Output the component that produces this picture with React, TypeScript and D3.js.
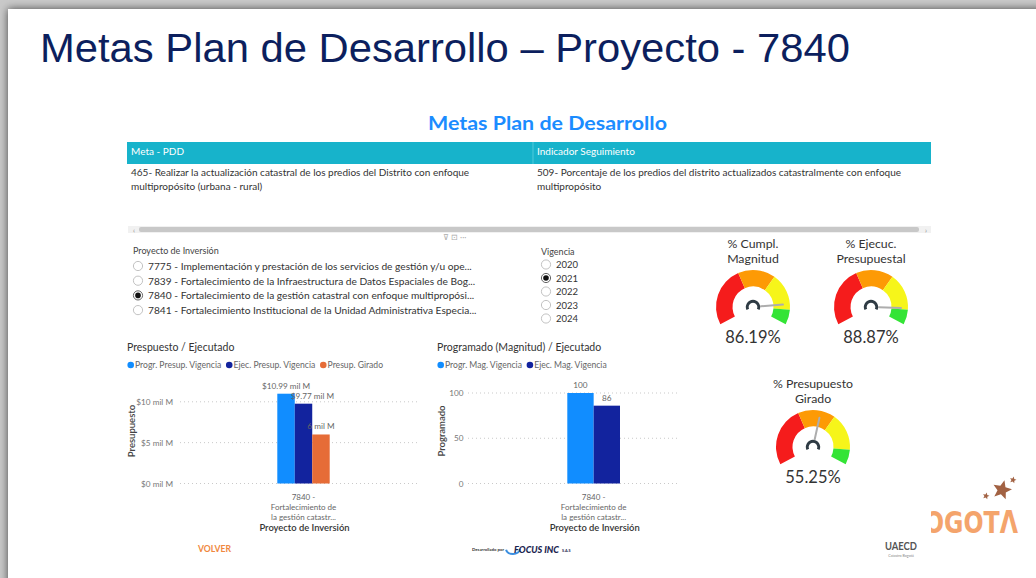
import React from "react";
import * as d3 from "d3";

// ---- data ----
const pageTitle = "Metas Plan de Desarrollo – Proyecto - 7840";
const panelTitle = "Metas Plan de Desarrollo";
const tableHeaders = ["Meta - PDD", "Indicador Seguimiento"];
const metaLines = ["465- Realizar la actualización catastral de los predios del Distrito con enfoque", "multipropósito (urbana - rural)"];
const indicadorLines = ["509- Porcentaje de los predios del distrito actualizados catastralmente con enfoque", "multipropósito"];

const proyectos = [
  "7775 - Implementación y prestación de los servicios de gestión y/u ope...",
  "7839 - Fortalecimiento de la Infraestructura de Datos Espaciales de Bog...",
  "7840 - Fortalecimiento de la gestión catastral con enfoque multipropósi...",
  "7841 - Fortalecimiento Institucional de la Unidad Administrativa Especia...",
];
const proyectoSel = 2;
const vigencias = ["2020", "2021", "2022", "2023", "2024"];
const vigenciaSel = 1;

const presupSeries = ["Progr. Presup. Vigencia", "Ejec. Presup. Vigencia", "Presup. Girado"];
const presupValues = [10.99, 9.77, 6];
const presupLabels = ["$10.99 mil M", "$9.77 mil M", "6 mil M"];
const presupTicks = [0, 5, 10];
const presupTickLabels = ["$0 mil M", "$5 mil M", "$10 mil M"];

const magSeries = ["Progr. Mag. Vigencia", "Ejec. Mag. Vigencia"];
const magValues = [100, 86];
const magLabels = ["100", "86"];
const magTicks = [0, 50, 100];
const magTickLabels = ["0", "50", "100"];

const categoryLines = ["7840 -", "Fortalecimiento de", "la gestión catastr..."];
const seriesColors = ["#118dff", "#12239e", "#e66c37"];

const gaugeTitles = [["% Cumpl.", "Magnitud"], ["% Ejecuc.", "Presupuestal"], ["% Presupuesto", "Girado"]];
const gaugeValues = [86.19, 88.87, 55.25];
const gaugeBands = [0, 40, 65, 90, 100];
const gaugeColors = ["#f51c1c", "#fd9a05", "#f6f51a", "#34e436"];

// ---- helpers ----
const UI = "Lato, 'Open Sans', sans-serif";

let ctx: CanvasRenderingContext2D | null = null;
function measure(text: string, font: string) {
  if (!ctx) ctx = document.createElement("canvas").getContext("2d");
  ctx!.font = font;
  return ctx!.measureText(text).width;
}

function Radio({ x, y, on }: { x: number; y: number; on: boolean }) {
  return (
    <g>
      <circle cx={x} cy={y} r={4.6} fill="#fff" stroke={on ? "#555" : "#bbb"} strokeWidth={0.9} />
      {on && <circle cx={x} cy={y} r={2.8} fill="#111" />}
    </g>
  );
}

function Legend({ x, y, names, size }: { x: number; y: number; names: string[]; size: number }) {
  let cur = x;
  return (
    <g>
      {names.map((n, i) => {
        const gx = cur;
        cur += 7 + measure(n, `${size}px Lato`) + 5;
        return (
          <g key={n}>
            <circle cx={gx + 3.2} cy={y} r={3.3} fill={seriesColors[i]} />
            <text x={gx + 7.5} y={y} dominantBaseline="central" fontFamily={UI} fontSize={size} fill="#666">{n}</text>
          </g>
        );
      })}
    </g>
  );
}

type BarProps = {
  title: string; titleX: number; series: string[]; values: number[]; labels: string[];
  ticks: number[]; tickLabels: string[]; axisTitle: string; axisTitleX: number; top: number;
  tickRight: number; grid: [number, number]; band: [number, number]; labelDx: number[];
};

function BarChart(p: BarProps) {
  const y = d3.scaleLinear().domain([0, d3.max(p.ticks)!]).range([483.5, p.top]);
  const x = d3.scaleBand<string>().domain(p.series).range(p.band).padding(0);
  const cx = (p.band[0] + p.band[1]) / 2;
  return (
    <g fontFamily={UI}>
      <text x={p.titleX} y={347} dominantBaseline="central" fontSize={10.5} fill="#333">{p.title}</text>
      <Legend x={p.titleX + 0.5} y={365} names={p.series} size={8.6} />
      {p.ticks.map((t, i) => (
        <g key={t}>
          <line x1={p.grid[0]} x2={p.grid[1]} y1={y(t)} y2={y(t)} stroke="#c9c9c9" strokeDasharray="1,3" />
          <text x={p.tickRight} y={y(t)} dominantBaseline="central" textAnchor="end" fontSize={8.2} fill="#777">{p.tickLabels[i]}</text>
        </g>
      ))}
      <text transform={`translate(${p.axisTitleX},431) rotate(-90)`} textAnchor="middle" dominantBaseline="central" fontSize={9.5} fill="#444" fontWeight={600}>{p.axisTitle}</text>
      {p.series.map((s, i) => (
        <g key={s}>
          <rect x={x(s)} y={y(p.values[i])} width={x.bandwidth()} height={y(0) - y(p.values[i])} fill={seriesColors[i]} />
          <text x={x(s)! + x.bandwidth() / 2 + p.labelDx[i]} y={y(p.values[i]) - 8} textAnchor="middle" dominantBaseline="central" fontSize={8.2} fill="#666">{p.labels[i]}</text>
        </g>
      ))}
      {categoryLines.map((l, i) => (
        <text key={l} x={cx} y={497 + i * 9.8} textAnchor="middle" dominantBaseline="central" fontSize={8} fill="#666">{l}</text>
      ))}
      <text x={cx + 1} y={527.5} textAnchor="middle" dominantBaseline="central" fontSize={9.4} fill="#333" fontWeight={600}>Proyecto de Inversión</text>
    </g>
  );
}

function Gauge({ cx, cy, value, lines, titleY }: { cx: number; cy: number; value: number; lines: string[]; titleY: number }) {
  const deg = Math.PI / 180;
  const a = d3.scaleLinear().domain([0, 100]).range([-118 * deg, 118 * deg]);
  const arc = d3.arc<any>();
  const segs = gaugeColors.map((c, i) => ({
    c, d: arc({ innerRadius: 20.5, outerRadius: 37, startAngle: a(gaugeBands[i]), endAngle: a(gaugeBands[i + 1]) }),
  }));
  const hook = arc({ innerRadius: 4.3, outerRadius: 7.2, startAngle: -0.64 * Math.PI, endAngle: 0.64 * Math.PI });
  const ang = a(value);
  return (
    <g fontFamily={UI}>
      {lines.map((l, i) => (
        <text key={l} x={cx} y={titleY + i * 15} textAnchor="middle" dominantBaseline="central" fontSize={12.3} fill="#333">{l}</text>
      ))}
      <g transform={`translate(${cx},${cy})`}>
        {segs.map(s => <path key={s.c} d={s.d!} fill={s.c} />)}
        <path d={hook!} fill="#2f3b44" />
        <line x1={8 * Math.sin(ang)} y1={-8 * Math.cos(ang)} x2={30 * Math.sin(ang)} y2={-30 * Math.cos(ang)} stroke="#adadad" strokeWidth={2} strokeLinecap="round" />
      </g>
      <text x={cx} y={cy + 30} textAnchor="middle" dominantBaseline="central" fontSize={16.5} fill="#333">{value.toFixed(2)}%</text>
    </g>
  );
}

function star(cx: number, cy: number, r: number) {
  const pts: [number, number][] = [];
  for (let i = 0; i < 10; i++) {
    const rr = i % 2 === 0 ? r : r * 0.45;
    const t = (Math.PI / 5) * i - Math.PI / 2 + 0.25;
    pts.push([cx + rr * Math.cos(t), cy + rr * Math.sin(t)]);
  }
  return "M" + pts.map(p => p.join(",")).join("L") + "Z";
}

export default function App() {
  return (
    <svg width={1036} height={578} style={{ position: "absolute", left: 0, top: 0, display: "block" }}>
      <defs>
        <filter id="sh" x="-5%" y="-5%" width="110%" height="110%">
          <feDropShadow dx={0} dy={0} stdDeviation={4} floodColor="#000" floodOpacity={0.65} />
        </filter>
        <clipPath id="logoClip"><rect x={931} y={460} width={105} height={100} /></clipPath>
      </defs>
      <rect width={1036} height={578} fill="#c9c9c9" />
      <rect x={8} y={9} width={1040} height={580} fill="#fff" filter="url(#sh)" />

      <text x={40} y={62} fontFamily="'Liberation Sans', sans-serif" fontSize={41} fill="#0c1f5e" textLength={810} lengthAdjust="spacingAndGlyphs">{pageTitle}</text>

      <text x={428} y={122} dominantBaseline="central" fontFamily={UI} fontWeight={700} fontSize={19.5} fill="#1b8cff" textLength={239} lengthAdjust="spacingAndGlyphs">{panelTitle}</text>

      {/* table */}
      <rect x={127} y={142} width={804} height={22} fill="#17b3cb" />
      <line x1={533} x2={533} y1={142} y2={164} stroke="#5fd0df" strokeWidth={0.8} />
      <g fontFamily={UI} fontSize={10}>
        <text x={131} y={151} dominantBaseline="central" fill="#fff">{tableHeaders[0]}</text>
        <text x={537} y={151} dominantBaseline="central" fill="#fff">{tableHeaders[1]}</text>
        {metaLines.map((l, i) => <text key={l} x={131} y={172 + i * 14} dominantBaseline="central" fill="#333">{l}</text>)}
        {indicadorLines.map((l, i) => <text key={l} x={537} y={172 + i * 14} dominantBaseline="central" fill="#333">{l}</text>)}
      </g>
      <rect x={128} y={226} width={803} height={7} fill="#f1f1f1" />
      <rect x={139} y={227} width={780} height={5} rx={2} fill="#c8c8c8" />
      <text x={133} y={229.5} dominantBaseline="central" fontSize={7} fill="#888" fontFamily={UI}>‹</text>
      <text x={925} y={229.5} dominantBaseline="central" fontSize={7} fill="#888" fontFamily={UI}>›</text>
      <text x={443} y={237} dominantBaseline="central" fontSize={8} fill="#aaa" fontFamily={UI}>⊽  ⊡  ···</text>

      {/* slicers */}
      <g fontFamily={UI}>
        <text x={133} y={250} dominantBaseline="central" fontSize={9} fill="#444">Proyecto de Inversión</text>
        {proyectos.map((p, i) => (
          <g key={p}>
            <Radio x={138} y={266 + i * 14.7} on={i === proyectoSel} />
            <text x={148} y={266 + i * 14.7} dominantBaseline="central" fontSize={10.2} fill="#333">{p}</text>
          </g>
        ))}
        <text x={541} y={251} dominantBaseline="central" fontSize={9} fill="#444">Vigencia</text>
        {vigencias.map((v, i) => (
          <g key={v}>
            <Radio x={546} y={264.5 + i * 13.5} on={i === vigenciaSel} />
            <text x={556} y={264.5 + i * 13.5} dominantBaseline="central" fontSize={9.5} fill="#333">{v}</text>
          </g>
        ))}
      </g>

      <BarChart title="Prespuesto / Ejecutado" titleX={127} series={presupSeries} values={presupValues} labels={presupLabels}
        ticks={presupTicks} tickLabels={presupTickLabels} axisTitle="Presupuesto" axisTitleX={131.5} tickRight={173} top={401.8}
        grid={[180, 420]} band={[277.3, 329.7]} labelDx={[0, 9, 0]} />
      <BarChart title="Programado (Magnitud) / Ejecutado" titleX={437} series={magSeries} values={magValues} labels={magLabels}
        ticks={magTicks} tickLabels={magTickLabels} axisTitle="Programado" axisTitleX={441.5} tickRight={463.5} top={393}
        grid={[468, 678]} band={[567.3, 620]} labelDx={[0, 0]} />

      <Gauge cx={753} cy={307} value={gaugeValues[0]} lines={gaugeTitles[0]} titleY={243.5} />
      <Gauge cx={871} cy={307} value={gaugeValues[1]} lines={gaugeTitles[1]} titleY={243.5} />
      <Gauge cx={813} cy={447} value={gaugeValues[2]} lines={gaugeTitles[2]} titleY={383.5} />

      {/* footer */}
      <text x={198} y={548.5} dominantBaseline="central" fontFamily={UI} fontWeight={700} fontSize={9} fill="#f0883e" textLength={33} lengthAdjust="spacingAndGlyphs">VOLVER</text>
      <text x={472} y={549.5} dominantBaseline="central" fontFamily={UI} fontWeight={700} fontSize={4.3} fill="#333">Desarrollado por</text>
      <ellipse cx={513} cy={549} rx={7} ry={5} fill="none" stroke="#3a8ee0" strokeWidth={2} strokeDasharray="18,30" />
      <text x={514} y={549} dominantBaseline="central" fontFamily={UI} fontWeight={900} fontStyle="italic" fontSize={9.5} fill="#1b2550" textLength={45} lengthAdjust="spacingAndGlyphs">FOCUS INC</text>
      <text x={562} y={550} dominantBaseline="central" fontFamily={UI} fontWeight={700} fontSize={3.8} fill="#1b2550">S.A.S</text>
      <text x={901} y={546} textAnchor="middle" dominantBaseline="central" fontFamily={UI} fontWeight={700} fontSize={10.5} fill="#555" textLength={32} lengthAdjust="spacingAndGlyphs">UAECD</text>
      <text x={901} y={555.5} textAnchor="middle" dominantBaseline="central" fontFamily={UI} fontSize={3.6} fill="#888">Catastro Bogotá</text>

      <g clipPath="url(#logoClip)">
        <text x={906} y={533} fontFamily="'DejaVu Sans', sans-serif" fontWeight={700} fontSize={31} fill="#f4a46c" textLength={112} lengthAdjust="spacingAndGlyphs">BOGOTΛ</text>
      </g>
      <path d={star(1002, 490, 10)} fill="#a26243" />
      <path d={star(986, 496, 3.5)} fill="#a26243" />
      <path d={star(1013, 480, 3.5)} fill="#a26243" />
    </svg>
  );
}
